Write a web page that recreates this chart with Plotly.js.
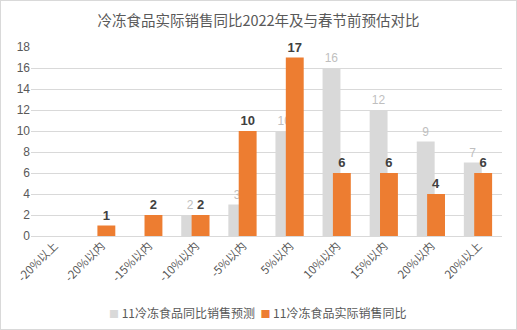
<!DOCTYPE html>
<html>
<head>
<meta charset="utf-8">
<script src="https://cdn.plot.ly/plotly-3.0.1.min.js"></script>
<style>
html,body{margin:0;padding:0;background:#fff;}
#chart{width:517px;height:330px;box-sizing:border-box;border:1px solid #d9d9d9;}
</style>
</head>
<body>
<div id="chart"></div>
<script>
const categories = ["-20%以上","-20%以内","-15%以内","-10%以内","-5%以内","5%以内","10%以内","15%以内","20%以内","20%以上"];
const forecastValues = [null, null, null, 2, 3, 10, 16, 12, 9, 7];
const actualValues = [null, 1, 2, 2, 10, 17, 6, 6, 4, 6];
const forecastName = "11冷冻食品同比销售预测";
const actualName = "11冷冻食品实际销售同比";
const titleText = "冷冻食品实际销售同比2022年及与春节前预估对比";

const cjk = "'Noto Sans CJK SC', sans-serif";
const num = "'Liberation Sans', 'Noto Sans CJK SC', sans-serif";
const forecastColor = '#D9D9D9';
const actualColor = '#ED7D31';

const traces = [
  {
    type: 'bar', name: forecastName, x: categories, y: forecastValues,
    width: 0.38, offset: -0.31,
    marker: {color: forecastColor},
    text: forecastValues.map(v => v == null ? '' : String(v)),
    textposition: 'outside', cliponaxis: false,
    textfont: {color: '#BFBFBF', size: 12, family: num},
    hoverinfo: 'none', showlegend: false
  },
  {
    type: 'bar', name: actualName, x: categories, y: actualValues,
    width: 0.38, offset: -0.09,
    marker: {color: actualColor},
    text: actualValues.map(v => v == null ? '' : '<b>' + v + '</b>'),
    textposition: 'outside', cliponaxis: false,
    textfont: {color: '#404040', size: 13, family: num},
    hoverinfo: 'none', showlegend: false
  }
];

const legendText =
  '<span style="color:' + forecastColor + ';font-size:10px">■</span> ' + forecastName +
  '  <span style="color:' + actualColor + ';font-size:10px">■</span> ' + actualName;

const layout = {
  width: 515, height: 328,
  margin: {l: 30, r: 14, t: 46, b: 93},
  barmode: 'overlay',
  paper_bgcolor: '#fff', plot_bgcolor: '#fff',
  title: {text: titleText, font: {family: cjk, size: 14.5, color: '#595959'}, x: 0.5, xanchor: 'center', y: 0.94, yanchor: 'middle'},
  xaxis: {
    type: 'category', tickangle: -45,
    tickfont: {family: cjk, size: 11.5, color: '#595959'},
    showgrid: false, showline: false, ticks: '', fixedrange: true
  },
  yaxis: {
    range: [0, 18], dtick: 2, tick0: 0,
    gridcolor: '#D9D9D9', gridwidth: 1, zeroline: true, zerolinecolor: '#D9D9D9', zerolinewidth: 1,
    tickfont: {family: num, size: 12, color: '#595959'},
    showline: false, ticks: '', ticklen: 0, fixedrange: true
  },
  showlegend: false,
  annotations: [{
    text: legendText, xref: 'paper', yref: 'paper', x: 0.48, y: -0.404,
    xanchor: 'center', yanchor: 'middle', showarrow: false,
    font: {family: cjk, size: 12, color: '#595959'}
  }]
};

Plotly.newPlot('chart', traces, layout, {staticPlot: true, displayModeBar: false});
</script>
</body>
</html>
